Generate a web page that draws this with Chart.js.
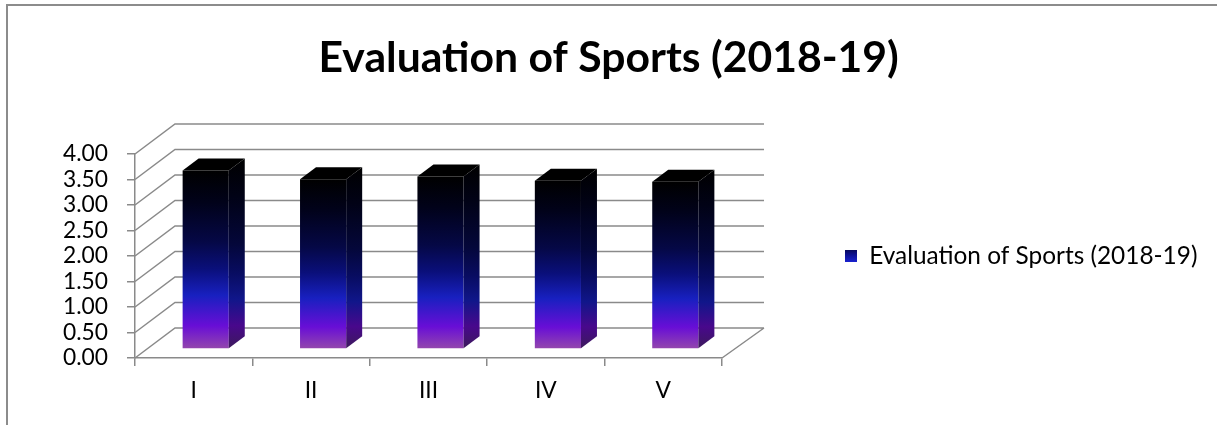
<!DOCTYPE html>
<html>
<head>
<meta charset="utf-8">
<script src="https://cdn.jsdelivr.net/npm/chart.js@4.4.0/dist/chart.umd.min.js"></script>
<style>
  html, body { margin: 0; padding: 0; background: #fff; }
  canvas { display: block; }
</style>
</head>
<body>
<canvas id="evaluationChart" width="1217" height="425"></canvas>
<script>
// data
const categories = ['I', 'II', 'III', 'IV', 'V'];
const scores = [3.50, 3.33, 3.38, 3.30, 3.28];
const seriesLabel = 'Evaluation of Sports (2018-19)';
const chartTitle = 'Evaluation of Sports (2018-19)';
const yTicks = { min: 0, max: 4, step: 0.5 };

const family = 'Lato, "Open Sans", sans-serif';

// pick a font size so a text gets the width it has in the picture
function fitSize(text, weight, target) {
  const c = document.createElement('canvas').getContext('2d');
  c.font = weight + ' 100px ' + family;
  return Math.round(1000 * target / c.measureText(text).width) / 10;
}

const titleSize = fitSize(chartTitle, 'bold', 580);
const legendSize = fitSize(seriesLabel, 'normal', 328);
const tickSize = fitSize('4.00', 'normal', 45);

// 3d look: wall depth, front face offset and bar depth
const WALL = { dx: 40, dy: -30 };
const FRONT = { dx: 12, dy: -9 };
const BAR = { dx: 16, dy: -12 };

const plotLeft = 135, plotRight = 720, plotTop = 154, plotBottom = 358;
const legendGap = 123, legendBox = 12;
const legendWidth = legendGap + legendBox + legendSize + 328;
const padRight = 1217 - plotRight - legendWidth;
const titlePadTop = 54 - 0.6 * titleSize;
const titlePadBottom = plotTop - 4 - titlePadTop - 1.2 * titleSize;

const gridColor = '#8a8a8a';

const frontStops = [
  [0, '#000000'], [0.18, '#01021a'], [0.4, '#050846'], [0.55, '#0a0f7a'],
  [0.7, '#1820c0'], [0.87, '#680ed6'], [1, '#9448ac']
];
const sideStops = [
  [0, '#000000'], [0.2, '#010216'], [0.45, '#04073a'], [0.6, '#080c60'],
  [0.74, '#10168a'], [0.88, '#48088c'], [1, '#3c1a5c']
];

function gradient(ctx, top, bottom, stops) {
  const g = ctx.createLinearGradient(0, top, 0, bottom);
  stops.forEach(s => g.addColorStop(s[0], s[1]));
  return g;
}

const look3d = {
  id: 'look3d',
  beforeDraw(chart) {
    const ctx = chart.ctx;
    ctx.save();
    ctx.fillStyle = '#fff';
    ctx.fillRect(0, 0, chart.width, chart.height);
    ctx.strokeStyle = '#8c8c8c';
    ctx.lineWidth = 2;
    ctx.beginPath();
    ctx.moveTo(7, chart.height);
    ctx.lineTo(7, 5);
    ctx.lineTo(chart.width, 5);
    ctx.stroke();
    ctx.restore();

    const hb = chart.legend.legendHitBoxes[0];
    if (hb) {
      chart.legend.legendItems[0].fillStyle = gradient(ctx, hb.top, hb.top + hb.height,
        [[0, '#000018'], [0.45, '#0c1090'], [0.75, '#1a22d0'], [1, '#8a20d8']]);
    }
  },
  beforeDatasetsDraw(chart) {
    const { ctx, chartArea: a, scales: { y } } = chart;
    ctx.save();
    ctx.strokeStyle = gridColor;
    ctx.lineWidth = 1.5;
    ctx.beginPath();
    y.ticks.forEach(t => {
      const py = y.getPixelForValue(t.value);
      ctx.moveTo(a.left, py);
      ctx.lineTo(a.left + WALL.dx, py + WALL.dy);
      ctx.lineTo(a.right + WALL.dx + 2, py + WALL.dy);
    });
    ctx.moveTo(a.right, a.bottom);
    ctx.lineTo(a.right + WALL.dx + 2, a.bottom + WALL.dy);
    ctx.stroke();
    ctx.restore();

    ctx.save();
    ctx.translate(FRONT.dx, FRONT.dy);
  },
  afterDatasetsDraw(chart) {
    const ctx = chart.ctx;
    chart.getDatasetMeta(0).data.forEach(bar => {
      const { x, y, base, width } = bar.getProps(['x', 'y', 'base', 'width'], true);
      const l = x - width / 2, r = x + width / 2;
      ctx.fillStyle = gradient(ctx, y + BAR.dy, base, sideStops);
      ctx.beginPath();
      ctx.moveTo(r, y);
      ctx.lineTo(r + BAR.dx, y + BAR.dy);
      ctx.lineTo(r + BAR.dx, base + BAR.dy);
      ctx.lineTo(r, base);
      ctx.closePath();
      ctx.fill();

      ctx.fillStyle = '#000';
      ctx.beginPath();
      ctx.moveTo(l, y);
      ctx.lineTo(l + BAR.dx, y + BAR.dy);
      ctx.lineTo(r + BAR.dx, y + BAR.dy);
      ctx.lineTo(r, y);
      ctx.closePath();
      ctx.fill();
    });
    ctx.restore();
  }
};

const ctx = document.getElementById('evaluationChart').getContext('2d');

const evaluationChart = new Chart(ctx, {
  type: 'bar',
  data: {
    labels: categories,
    datasets: [{
      label: seriesLabel,
      data: scores,
      backgroundColor(c) {
        const chart = c.chart;
        if (c.type !== 'data' || !chart.chartArea) return '#1a20cc';
        const y = chart.scales.y;
        return gradient(chart.ctx, y.getPixelForValue(c.raw), y.getPixelForValue(0), frontStops);
      },
      borderWidth: 0,
      categoryPercentage: 1,
      barPercentage: 0.393,
      clip: false
    }]
  },
  options: {
    responsive: false,
    animation: false,
    events: [],
    layout: {
      padding: { left: 10, top: 4, right: padRight, bottom: 0 }
    },
    plugins: {
      title: {
        display: true,
        text: chartTitle,
        color: '#000',
        font: { family: family, size: titleSize, weight: 'bold', lineHeight: 1.2 },
        padding: { top: titlePadTop, bottom: titlePadBottom }
      },
      legend: {
        position: 'right',
        fullSize: false,
        maxWidth: 700,
        labels: {
          color: '#000',
          boxWidth: legendBox,
          boxHeight: legendBox,
          padding: legendGap,
          font: { family: family, size: legendSize }
        }
      },
      tooltip: { enabled: false }
    },
    scales: {
      y: {
        min: yTicks.min,
        max: yTicks.max,
        afterFit(scale) { scale.width = plotLeft - 10; },
        ticks: {
          stepSize: yTicks.step,
          autoSkip: false,
          callback: v => v.toFixed(2),
          color: '#000',
          padding: 19,
          font: { family: family, size: tickSize }
        },
        grid: {
          drawOnChartArea: false,
          tickLength: 8,
          color: gridColor,
          lineWidth: 1.5
        },
        border: { display: true, color: gridColor, width: 1.5 }
      },
      x: {
        offset: true,
        afterFit(scale) { scale.height = 425 - plotBottom; },
        ticks: {
          color: '#000',
          padding: 11,
          maxRotation: 0,
          font: { family: family, size: tickSize }
        },
        grid: {
          offset: true,
          drawOnChartArea: false,
          tickLength: 8,
          color: gridColor,
          lineWidth: 1.5
        },
        border: { display: true, color: gridColor, width: 1.5 }
      }
    }
  },
  plugins: [look3d]
});
</script>
</body>
</html>
